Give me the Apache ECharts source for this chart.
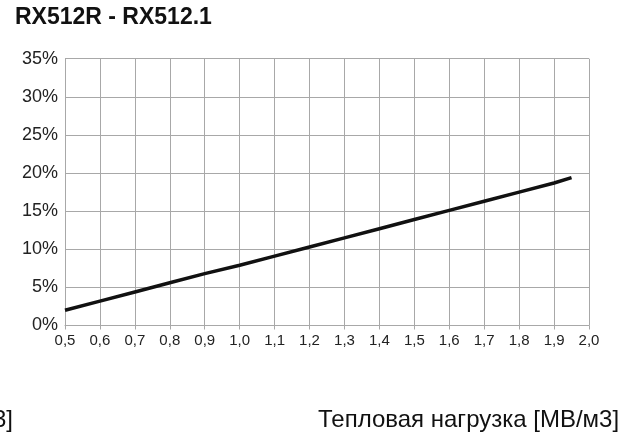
<!DOCTYPE html>
<html>
<head>
<meta charset="utf-8">
<script src="https://cdn.jsdelivr.net/npm/echarts@6/dist/echarts.min.js"></script>
<style>
html,body{margin:0;padding:0;background:#fff;}
#c{width:626px;height:442px;}
</style>
</head>
<body>
<div id="c"></div>
<script>
var titleText = 'RX512R - RX512.1';
var xAxisLabelText = 'Тепловая нагрузка [МВ/м3]';
var leftCutText = 'МВ/м3]';
var xValues = [0.5, 0.6, 0.7, 0.8, 0.9, 1.0, 1.1, 1.2, 1.3, 1.4, 1.5, 1.6, 1.7, 1.8, 1.9, 1.95];
var yValues = [2.0, 3.2, 4.4, 5.6, 6.8, 7.9, 9.1, 10.3, 11.5, 12.7, 13.9, 15.1, 16.3, 17.5, 18.7, 19.4];

var FONT = '"Liberation Sans", Arial, Helvetica, sans-serif';
var chart = echarts.init(document.getElementById('c'), null, {renderer: 'canvas'});
var pts = xValues.map(function (x, i) { return [x, yValues[i]]; });

chart.setOption({
  animation: false,
  backgroundColor: '#ffffff',
  grid: {left: 65, right: 37, top: 58.7, bottom: 116.5, containLabel: false},
  xAxis: {
    type: 'value', min: 0.5, max: 2.0, interval: 0.1,
    axisLine: {show: true, lineStyle: {color: '#a8a8a8', width: 1}},
    axisTick: {show: true, length: 4, lineStyle: {color: '#a8a8a8'}},
    splitLine: {show: true, lineStyle: {color: '#a8a8a8', width: 1}},
    axisLabel: {
      color: '#222', fontFamily: FONT, fontSize: 15, margin: 8,
      formatter: function (v) { return v.toFixed(1).replace('.', ','); }
    }
  },
  yAxis: {
    type: 'value', min: 0, max: 35, interval: 5,
    axisLine: {show: true, lineStyle: {color: '#a8a8a8', width: 1}},
    axisTick: {show: false},
    splitLine: {show: true, lineStyle: {color: '#a8a8a8', width: 1}},
    axisLabel: {
      color: '#222', fontFamily: FONT, fontSize: 18, margin: 7,
      formatter: function (v) { return v + '%'; }
    }
  },
  series: [{
    type: 'line', data: pts, showSymbol: false, smooth: false,
    lineStyle: {color: '#111', width: 3.5}
  }],
  graphic: [
    {type: 'text', left: 15, top: 6, style: {text: titleText, font: 'bold 23px ' + FONT, fill: '#111'}},
    {type: 'text', x: 318, y: 420.5, style: {text: xAxisLabelText, font: '24px ' + FONT, fill: '#111', textVerticalAlign: 'middle', verticalAlign: 'middle'}},
    {type: 'text', x: 13, y: 420.5, style: {text: leftCutText, font: '24px ' + FONT, fill: '#111', textAlign: 'right', align: 'right', textVerticalAlign: 'middle', verticalAlign: 'middle'}}
  ]
});
</script>
</body>
</html>
